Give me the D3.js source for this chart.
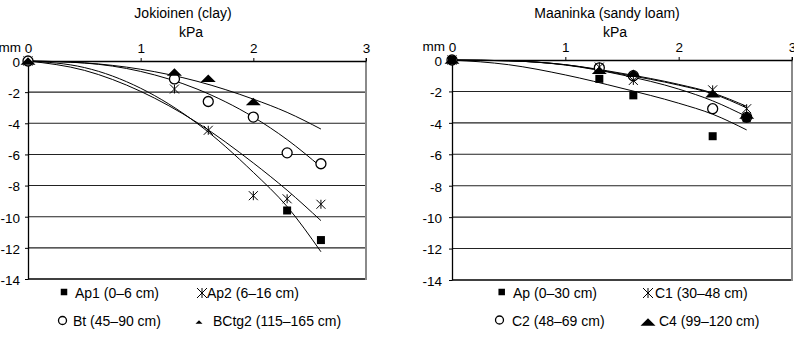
<!DOCTYPE html>
<html><head><meta charset="utf-8">
<script src="https://cdn.jsdelivr.net/npm/d3@7"></script>
<style>body{margin:0;background:#fff}svg{display:block}text{font-family:"Liberation Sans",Arial,sans-serif;fill:#000}</style>
</head><body>
<svg id="c" width="794" height="338"></svg>
<script>
// ---------- data ----------
const xTicks = [0, 1, 2, 3];
const yTicks = [0, -2, -4, -6, -8, -10, -12, -14];

// Jokioinen (clay) – measured points [kPa, mm]
const jokAp1 = [[0,0],[2.3,-9.6],[2.6,-11.5]];
const jokAp2 = [[0,0],[1.3,-1.8],[1.6,-4.45],[2.0,-8.65],[2.3,-8.85],[2.6,-9.2]];
const jokBt  = [[0,0],[1.3,-1.15],[1.6,-2.6],[2.0,-3.6],[2.3,-5.9],[2.6,-6.6]];
const jokBC  = [[0,0],[1.3,-0.7],[1.6,-1.1],[2.0,-2.6]];
// Jokioinen trend curves
const jokAp1Fit = [[0,0],[0.5,-0.42],[1.0,-1.75],[1.5,-4.0],[2.0,-7.15],[2.3,-9.35],[2.6,-12.25]];
const jokAp2Fit = [[0,0],[0.5,-0.6],[1.0,-1.95],[1.5,-3.95],[2.0,-6.55],[2.3,-8.3],[2.6,-10.25]];
const jokBtFit  = [[0,0],[0.5,-0.13],[1.0,-0.67],[1.5,-1.8],[2.0,-3.6],[2.3,-5.05],[2.6,-6.8]];
const jokBCFit  = [[0,0],[0.5,-0.12],[1.0,-0.53],[1.5,-1.3],[2.0,-2.45],[2.3,-3.3],[2.6,-4.37]];

// Maaninka (sandy loam)
const maaAp = [[0,0],[1.3,-1.2],[1.6,-2.25],[2.3,-4.85],[2.6,-3.7]];
const maaC1 = [[0,0],[1.3,-0.45],[1.6,-1.3],[2.3,-1.9],[2.6,-3.1]];
const maaC2 = [[0,0],[1.3,-0.5],[1.6,-1.0],[2.3,-3.1],[2.6,-3.65]];
const maaC4 = [[0,0],[1.3,-0.65],[1.6,-0.85],[2.3,-2.15],[2.6,-3.5]];
const maaApFit = [[0,0],[0.5,-0.3],[1.0,-0.95],[1.5,-1.8],[2.0,-2.75],[2.3,-3.45],[2.6,-4.45]];
const maaC1Fit = [[0,0],[0.5,-0.05],[1.0,-0.3],[1.5,-0.85],[2.0,-1.55],[2.3,-2.1],[2.6,-2.95]];
const maaC4Fit = [[0,0],[0.5,-0.05],[1.0,-0.3],[1.5,-0.9],[2.0,-1.6],[2.3,-2.15],[2.6,-3.05]];
const maaC2Fit = [[0,0],[0.5,-0.05],[1.0,-0.32],[1.5,-0.95],[2.0,-1.85],[2.3,-2.6],[2.6,-3.6]];

const jokLabels = ["Ap1 (0\u20136 cm)","Ap2 (6\u201316 cm)","Bt (45\u201390 cm)","BCtg2 (115\u2013165 cm)"];
const maaLabels = ["Ap (0\u201330 cm)","C1 (30\u201348 cm)","C2 (48\u201369 cm)","C4 (99\u2013120 cm)"];

// ---------- drawing ----------
const svg = d3.select("#c");
const FONT = "Liberation Sans, Arial, sans-serif";

function marker(g, type, cx, cy, s) {
  if (type === "square") {
    g.append("rect").attr("x", cx - s/2).attr("y", cy - s/2).attr("width", s).attr("height", s).attr("fill", "#000");
  } else if (type === "circle") {
    g.append("circle").attr("cx", cx).attr("cy", cy).attr("r", s/2).attr("fill", "#fff").attr("stroke", "#000").attr("stroke-width", 1.3);
  } else if (type === "star") {
    const r = s/2;
    const p = [[-r,-r,r,r],[-r,r,r,-r],[0,-r,0,r]];
    p.forEach(q => g.append("line").attr("x1", cx+q[0]).attr("y1", cy+q[1]).attr("x2", cx+q[2]).attr("y2", cy+q[3]).attr("stroke", "#000").attr("stroke-width", 1));
  } else if (type === "tri") {
    const w = s, h = s*0.5;
    g.append("path").attr("d", `M${cx-w/2},${cy+h/2}L${cx+w/2},${cy+h/2}L${cx},${cy-h/2}Z`).attr("fill", "#000");
  }
}

function panel(cfg) {
  const x = d3.scaleLinear().domain([0, 3]).range([cfg.x0, cfg.x1]);
  const y = d3.scaleLinear().domain([-14, 0]).range([cfg.y1, cfg.y0]);
  const g = svg.append("g");

  // gridlines
  g.selectAll("line.grid").data(yTicks.filter(d => d < 0 && d > -14)).enter().append("line")
    .attr("x1", cfg.x0).attr("x2", cfg.x1).attr("y1", d => y(d)).attr("y2", d => y(d))
    .attr("stroke", "#222").attr("stroke-width", 1.1);
  // bottom line
  g.append("line").attr("x1", cfg.x0).attr("x2", cfg.x1).attr("y1", y(-14)).attr("y2", y(-14)).attr("stroke", "#000").attr("stroke-width", 1.6);
  // right border
  g.append("line").attr("x1", cfg.x1).attr("x2", cfg.x1).attr("y1", y(0) - 3).attr("y2", y(-14) + 1).attr("stroke", "#8a8a8a").attr("stroke-width", 2);

  // top axis
  const ax = g.append("g").attr("transform", `translate(0,${y(0)})`)
    .call(d3.axisTop(x).tickValues(xTicks).tickSize(3).tickSizeOuter(0).tickFormat(d => String(d)));
  ax.select(".domain").attr("stroke", "#000").attr("stroke-width", 1.3);
  ax.selectAll(".tick line").attr("stroke", "#000");
  ax.selectAll("text").attr("font-size", 13.5).attr("dy", 0).attr("y", -8).style("font-family", FONT);

  // left axis
  const ay = g.append("g").attr("transform", `translate(${cfg.x0},0)`)
    .call(d3.axisLeft(y).tickValues(yTicks).tickSize(3).tickSizeOuter(0).tickFormat(d => String(d)));
  ay.select(".domain").attr("stroke", "#000").attr("stroke-width", 1.3);
  ay.selectAll(".tick line").attr("stroke", "#000");
  ay.selectAll("text").attr("font-size", 13.5).attr("x", -cfg.ylabGap).attr("dy", "0.4em").style("font-family", FONT);

  // labels
  g.append("text").attr("x", cfg.x0 + 155).attr("y", 18).attr("text-anchor", "middle").attr("font-size", 14).text(cfg.title);
  g.append("text").attr("x", cfg.x0 + 163).attr("y", 37).attr("text-anchor", "middle").attr("font-size", 14).text("kPa");
  g.append("text").attr("x", cfg.x0 - 7).attr("y", y(0) - 9.5).attr("text-anchor", "end").attr("font-size", 13.5).text("mm");

  // trend curves
  const line = d3.line().x(d => x(d[0])).y(d => y(d[1])).curve(d3.curveMonotoneX);
  cfg.fits.forEach(f => g.append("path").attr("d", line(f)).attr("fill", "none").attr("stroke", "#000").attr("stroke-width", 1));

  // markers
  cfg.series.forEach(s => s.data.forEach(d => marker(g, s.type, x(d[0]), y(d[1]), s.size)));

  // legend
  cfg.legend.forEach(l => {
    marker(g, l.type, l.mx, l.my, l.size);
    g.append("text").attr("x", l.tx).attr("y", l.ty).attr("font-size", 14).text(l.label);
  });
}

panel({
  x0: 28, x1: 366, y0: 61, y1: 279, ylabGap: 8,
  title: "Jokioinen (clay)",
  fits: [jokAp1Fit, jokAp2Fit, jokBtFit, jokBCFit],
  series: [
    {type: "square", size: 8, data: jokAp1},
    {type: "star", size: 9, data: jokAp2},
    {type: "circle", size: 10, data: jokBt},
    {type: "tri", size: 15, data: jokBC}
  ],
  legend: [
    {type: "square", size: 6.5, mx: 64, my: 292, tx: 75, ty: 298, label: jokLabels[0]},
    {type: "star", size: 10, mx: 202, my: 293, tx: 207, ty: 298, label: jokLabels[1]},
    {type: "circle", size: 8, mx: 62.5, my: 320.5, tx: 73, ty: 326, label: jokLabels[2]},
    {type: "tri", size: 7, mx: 199, my: 322, tx: 213, ty: 326, label: jokLabels[3]}
  ]
});

panel({
  x0: 452, x1: 792, y0: 60, y1: 280, ylabGap: 10,
  title: "Maaninka (sandy loam)",
  fits: [maaApFit, maaC1Fit, maaC2Fit, maaC4Fit],
  series: [
    {type: "circle", size: 10, data: maaC2},
    {type: "square", size: 8, data: maaAp},
    {type: "tri", size: 15, data: maaC4},
    {type: "star", size: 9, data: maaC1}
  ],
  legend: [
    {type: "square", size: 6.5, mx: 501.7, my: 292, tx: 513, ty: 298, label: maaLabels[0]},
    {type: "star", size: 10, mx: 648, my: 293, tx: 655, ty: 298, label: maaLabels[1]},
    {type: "circle", size: 8, mx: 499.5, my: 320, tx: 512, ty: 326, label: maaLabels[2]},
    {type: "tri", size: 15, mx: 648, my: 322, tx: 659, ty: 326, label: maaLabels[3]}
  ]
});
</script>
</body></html>
